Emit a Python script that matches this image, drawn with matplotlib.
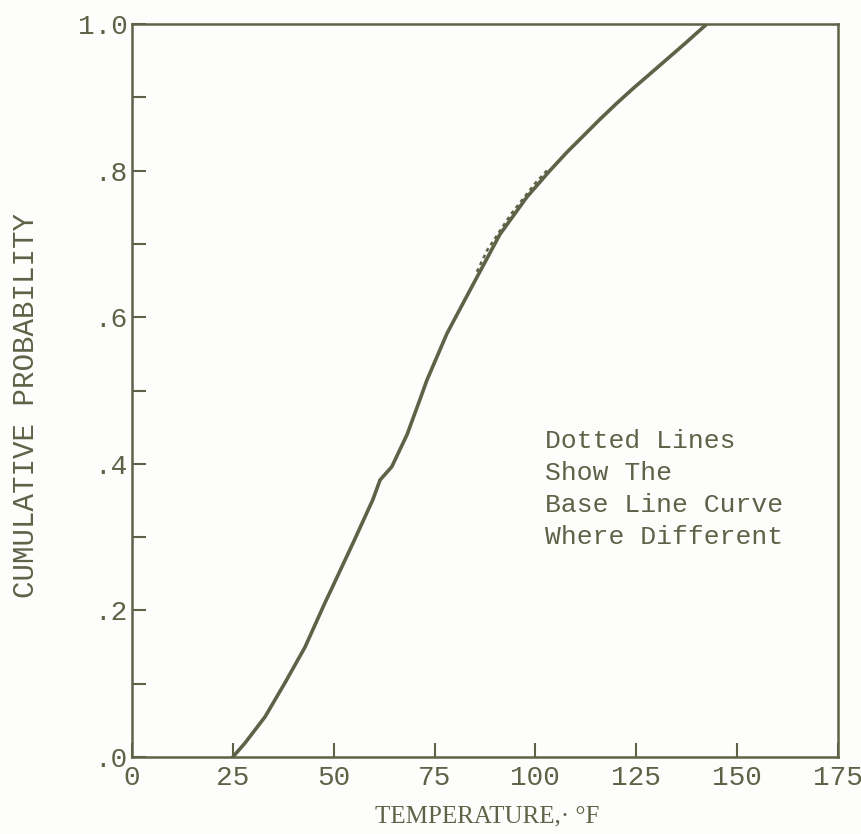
import matplotlib.pyplot as plt
from matplotlib.ticker import MultipleLocator

# lectura de la curva (temperatura en F, probabilidad acumulada)
temp = [25, 28.0, 33.0, 37.9, 42.9, 47.8, 49.1, 54.8, 59.7, 61.5, 64.4, 68.2,
        71.4, 73.1, 78.1, 83.8, 91.2, 97.9, 103.6, 107.8, 112, 116, 120, 124.2,
        128, 132.6, 137, 142.5]
prob = [0, 0.019, 0.055, 0.101, 0.150, 0.210, 0.225, 0.292, 0.351, 0.378, 0.396,
        0.440, 0.488, 0.514, 0.578, 0.637, 0.713, 0.764, 0.800, 0.825, 0.848,
        0.870, 0.891, 0.912, 0.930, 0.952, 0.973, 1.0]

# curva base (punteada) donde difiere
base_temp = [85.5, 88, 91, 94, 97, 100, 103]
base_prob = [0.662, 0.691, 0.716, 0.741, 0.762, 0.783, 0.801]

xticks = [0, 25, 50, 75, 100, 125, 150, 175]
yticks = [0, 0.2, 0.4, 0.6, 0.8, 1.0]
ylabels = ['.0', '.2', '.4', '.6', '.8', '1.0']

col = '#5e6246'
mono = 'Liberation Mono'

fig = plt.figure(figsize=(8.62, 8.34), dpi=100)
fig.patch.set_facecolor('#fdfdfb')
ax = fig.add_axes([0.1531, 0.0923, 0.819, 0.8789])
ax.set_facecolor('#fdfdfb')

ax.plot(base_temp, base_prob, color=col, lw=1.8, ls=(0, (1.5, 1.5)))
ax.plot(temp, prob, color=col, lw=2.6, solid_capstyle='round', solid_joinstyle='round')

ax.set_xlim(0, 175)
ax.set_ylim(0, 1.0)
ax.set_xticks(xticks)
ax.set_xticklabels([str(t) for t in xticks])
ax.set_yticks(yticks)
ax.set_yticklabels(ylabels)
ax.yaxis.set_minor_locator(MultipleLocator(0.1))

for s in ax.spines.values():
    s.set_color(col)
    s.set_linewidth(1.8)

ax.tick_params(axis='both', which='major', direction='in', length=10, width=1.5,
               color=col, labelcolor=col, labelsize=20, pad=3)
ax.tick_params(axis='x', which='major', pad=6)
ax.tick_params(axis='y', which='minor', direction='in', length=10, width=1.5, color=col)
for lab in ax.get_xticklabels() + ax.get_yticklabels():
    lab.set_family(mono)

ax.set_ylabel('CUMULATIVE PROBABILITY', family=mono, fontsize=21, color=col)
ax.yaxis.set_label_coords(-0.13, 0.479)
ax.set_xlabel('TEMPERATURE,· °F', family='Liberation Serif', fontsize=18, color=col)
ax.xaxis.set_label_coords(0.503, -0.066)

ax.text(0.585, 0.366, 'Dotted Lines\nShow The\nBase Line Curve\nWhere Different',
        transform=ax.transAxes, family=mono, fontsize=19, color=col,
        va='center', ha='left', linespacing=1.42)

fig.savefig('out.png', dpi=100, facecolor=fig.get_facecolor())
